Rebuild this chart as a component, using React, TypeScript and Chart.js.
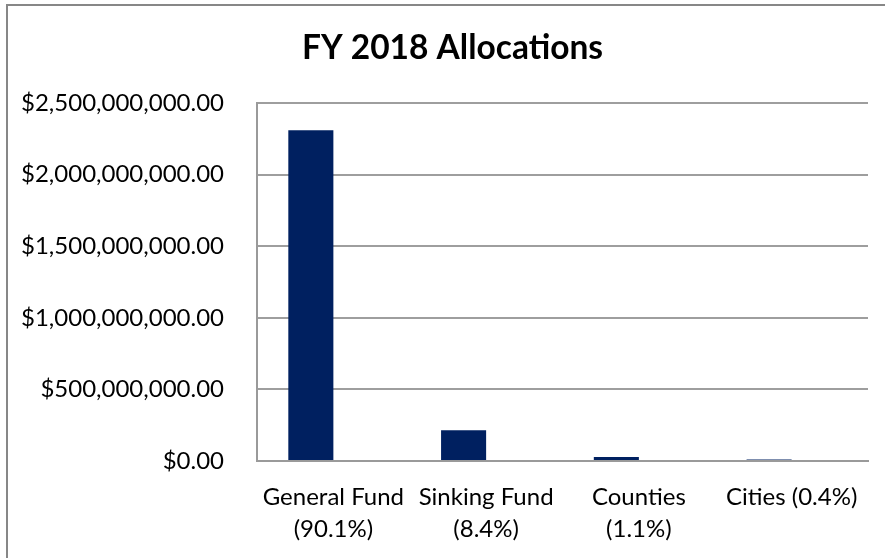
import React, { useEffect, useRef } from "react";
import { Chart, registerables } from "chart.js";

Chart.register(...registerables);

const categories: string[][] = [
  ["General Fund", "(90.1%)"],
  ["Sinking Fund", "(8.4%)"],
  ["Counties", "(1.1%)"],
  ["Cities (0.4%)"],
];
const allocations: number[] = [2310000000, 215000000, 28000000, 10000000];
const emptySeries: (number | null)[] = [null, null, null, null];
const yMin = 0;
const yMax = 2500000000;
const yStep = 500000000;
const titleText = "FY 2018 Allocations";

const FONT = "Lato, 'Noto Sans', sans-serif";

const titlePlugin = {
  id: "offsetTitle",
  afterDraw(chart: any) {
    const ctx = chart.ctx;
    ctx.save();
    ctx.font = `bold 33.5px ${FONT}`;
    ctx.fillStyle = "#000000";
    ctx.textAlign = "center";
    ctx.textBaseline = "alphabetic";
    ctx.fillText(titleText, chart.width / 2 + 10, 59);
    ctx.restore();
  },
};

export default function App() {
  const canvasRef = useRef<HTMLCanvasElement | null>(null);

  useEffect(() => {
    if (!canvasRef.current) return;
    const chart = new Chart(canvasRef.current, {
      type: "bar",
      data: {
        labels: categories,
        datasets: [
          {
            label: "Allocations",
            data: allocations,
            backgroundColor: "#002060",
            borderWidth: 0,
            categoryPercentage: 0.59,
            barPercentage: 1,
          },
          {
            label: "",
            data: emptySeries,
            backgroundColor: "#002060",
            borderWidth: 0,
            categoryPercentage: 0.59,
            barPercentage: 1,
          },
        ],
      },
      plugins: [titlePlugin],
      options: {
        animation: false,
        responsive: false,
        maintainAspectRatio: false,
        layout: { padding: { left: 0, right: 17, top: 103, bottom: 13 } },
        plugins: {
          legend: { display: false },
          tooltip: { enabled: false },
          title: { display: false },
        },
        scales: {
          x: {
            afterFit: (scale: any) => {
              scale.height = 84;
            },
            grid: { display: false, drawTicks: false },
            border: { display: true, color: "#9a9a9a", width: 2 },
            ticks: {
              color: "#000000",
              font: { family: FONT, size: 24, lineHeight: "32px" as any },
              padding: 20,
              maxRotation: 0,
              autoSkip: false,
            },
          },
          y: {
            min: yMin,
            max: yMax,
            afterFit: (scale: any) => {
              scale.width = 257;
            },
            grid: { color: "#9e9e9e", lineWidth: 2, drawTicks: false },
            border: { display: true, color: "#9a9a9a", width: 2 },
            ticks: {
              stepSize: yStep,
              color: "#000000",
              font: { family: FONT, size: 24 },
              padding: 33,
              callback: (v: any) =>
                "$" +
                Number(v).toLocaleString("en-US", {
                  minimumFractionDigits: 2,
                  maximumFractionDigits: 2,
                }),
            },
          },
        },
      },
    });
    return () => chart.destroy();
  }, []);

  return (
    <div
      style={{
        position: "fixed",
        left: 0,
        top: 0,
        width: 885,
        height: 558,
        overflow: "hidden",
        background: "#ffffff",
      }}
    >
      <div
        style={{
          position: "absolute",
          left: 6,
          top: 4,
          width: 1000,
          height: 1000,
          borderTop: "2px solid #878787",
          borderLeft: "2px solid #878787",
        }}
      />
      <canvas
        ref={canvasRef}
        width={885}
        height={558}
        style={{ position: "absolute", left: 0, top: 0, width: 885, height: 558 }}
      />
    </div>
  );
}
